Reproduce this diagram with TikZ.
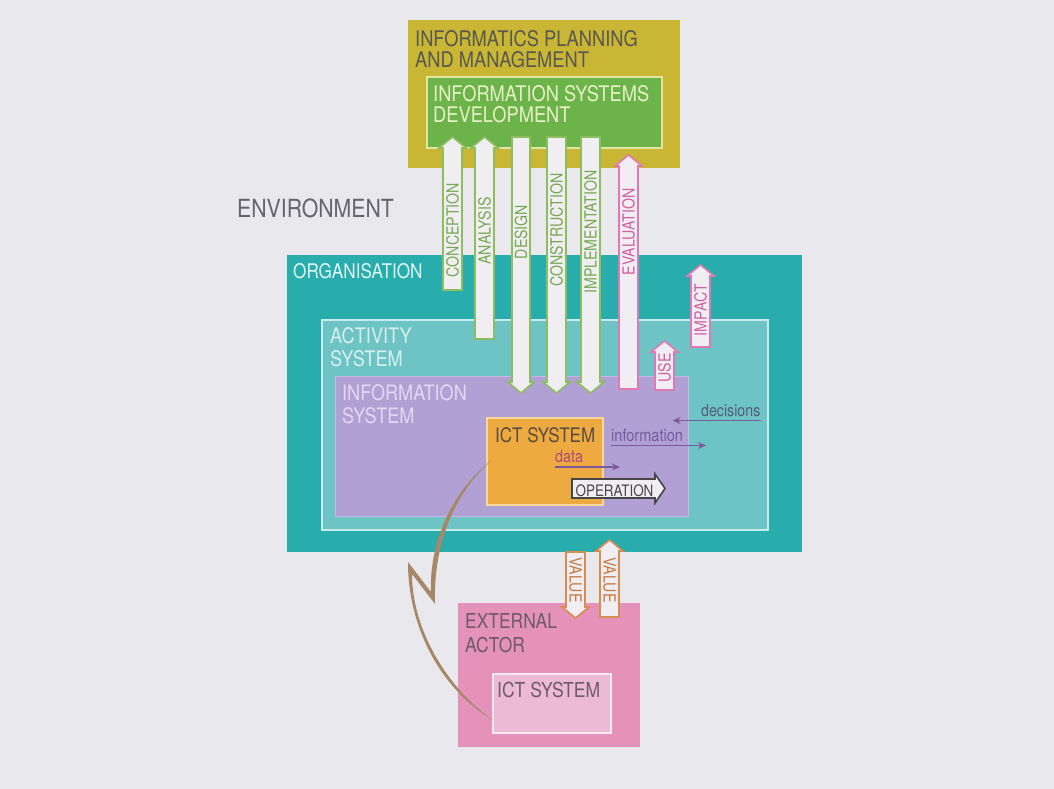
\documentclass[tikz,border=0pt]{standalone}
\usepackage{fontspec}
\setmainfont{TeX Gyre Heros}[FakeStretch=0.85]
\usetikzlibrary{arrows.meta,calc}

\definecolor{paper}{RGB}{233,232,237}
\definecolor{olivebox}{RGB}{201,182,52}
\definecolor{greenbox}{RGB}{108,180,74}
\definecolor{greenrim}{RGB}{226,230,165}
\definecolor{tealbox}{RGB}{40,172,172}
\definecolor{actbox}{RGB}{110,196,196}
\definecolor{actrim}{RGB}{200,236,236}
\definecolor{purplebox}{RGB}{176,160,212}
\definecolor{purplerim}{RGB}{196,184,226}
\definecolor{orangebox}{RGB}{236,170,64}
\definecolor{orangerim}{RGB}{246,215,160}
\definecolor{pinkbox}{RGB}{228,146,186}
\definecolor{pinkinner}{RGB}{236,186,214}
\definecolor{pinkrim}{RGB}{248,232,242}
\definecolor{blkfill}{RGB}{240,238,242}
\definecolor{greenline}{RGB}{140,190,95}
\definecolor{greentext}{RGB}{118,168,78}
\definecolor{pinkline}{RGB}{225,120,180}
\definecolor{pinktext}{RGB}{212,92,162}
\definecolor{orangeline}{RGB}{215,140,80}
\definecolor{orangetext}{RGB}{200,118,60}
\definecolor{darkline}{RGB}{70,70,70}
\definecolor{flowline}{RGB}{120,90,155}
\definecolor{datatext}{RGB}{178,72,120}
\definecolor{dectext}{RGB}{82,92,122}
\definecolor{bolt}{RGB}{166,136,104}
\definecolor{greytext}{RGB}{88,88,80}
\definecolor{envtext}{RGB}{100,100,106}
\definecolor{paletext}{RGB}{232,240,200}
\definecolor{orgtext}{RGB}{226,245,245}
\definecolor{acttext}{RGB}{214,240,240}
\definecolor{istext}{RGB}{226,216,242}
\definecolor{icttext}{RGB}{90,76,62}
\definecolor{exttext}{RGB}{110,90,104}

\newcommand\fsz[1]{\fontsize{#1}{#1}\selectfont}

% block arrow pointing up: style, left x, right x, tip y, bottom y
\newcommand\upblk[5]{%
  \draw[#1] (#2,#5) -- (#2,#4+11) -- (#2-4,#4+11) -- ({(#2+#3)/2},#4)
    -- (#3+4,#4+11) -- (#3,#4+11) -- (#3,#5) -- cycle;}
% block arrow pointing down: style, left x, right x, top y, tip y
\newcommand\dnblk[5]{%
  \draw[#1] (#2,#4) -- (#2,#5-11) -- (#2-4,#5-11) -- ({(#2+#3)/2},#5)
    -- (#3+4,#5-11) -- (#3,#5-11) -- (#3,#4) -- cycle;}

\begin{document}
\begin{tikzpicture}[x=1pt,y=-1pt,
  box/.style={anchor=north west, inner sep=0, outer sep=0},
  lbl/.style={inner sep=0, anchor=base west},
  vlbl/.style={inner sep=0, anchor=center, rotate=90, font=\fsz{16.7}},
  greenblk/.style={draw=greenline, fill=blkfill, line width=1.6pt, line join=miter},
  pinkblk/.style={draw=pinkline, fill=blkfill, line width=1.6pt, line join=miter},
  orangeblk/.style={draw=orangeline, fill=blkfill, line width=1.6pt, line join=miter},
  flow/.style={draw=flowline, line width=1.8pt, -{Stealth[length=8pt,width=7pt]}}]

\fill[paper] (0,0) rectangle (1054,789);
\useasboundingbox (0,0) rectangle (1054,789);

% ---- containers ----
\node[box, fill=olivebox, minimum width=272, minimum height=148] (ipm) at (408,20) {};
\node[box, fill=greenbox, draw=greenrim, line width=2pt, minimum width=235, minimum height=71] (isd) at (427,77) {};
\node[box, fill=tealbox, minimum width=515, minimum height=297] (org) at (287,255) {};
\node[box, fill=actbox, draw=actrim, line width=2pt, minimum width=446, minimum height=210] (act) at (322,320) {};
\node[box, fill=purplebox, draw=purplerim, line width=1pt, minimum width=353, minimum height=140] (isys) at (335,376) {};
\node[box, fill=orangebox, draw=orangerim, line width=1.5pt, minimum width=116, minimum height=87] (ict) at (487,418) {};
\node[box, fill=pinkbox, minimum width=182, minimum height=144] (ext) at (458,603) {};
\node[box, fill=pinkinner, draw=pinkrim, line width=2pt, minimum width=118, minimum height=59] (ictx) at (493,674) {};

% ---- container titles ----
\node[lbl, text=greytext, font=\fsz{21.5}] (ipmA) at (415,47) {INFORMATICS PLANNING};
\node[lbl, text=greytext, font=\fsz{21.5}] (ipmB) at (415,68) {AND MANAGEMENT};
\node[lbl, text=paletext, font=\fsz{21.5}] (isdA) at (433,102) {INFORMATION SYSTEMS};
\node[lbl, text=paletext, font=\fsz{21.5}] (isdB) at (433,123) {DEVELOPMENT};
\node[lbl, text=envtext, font=\fsz{25}] (env) at (237,217) {ENVIRONMENT};
\node[lbl, text=orgtext, font=\fsz{20.2}] (orgl) at (293,278) {ORGANISATION};
\node[lbl, text=acttext, font=\fsz{21.4}] (actA) at (330,343) {ACTIVITY};
\node[lbl, text=acttext, font=\fsz{21.4}] (actB) at (330,366) {SYSTEM};
\node[lbl, text=istext, font=\fsz{21.3}] (isA) at (342,400) {INFORMATION};
\node[lbl, text=istext, font=\fsz{21.3}] (isB) at (342,423) {SYSTEM};
\node[lbl, text=icttext, font=\fsz{20}] (ictl) at (495,442) {ICT SYSTEM};
\node[lbl, text=exttext, font=\fsz{20.5}] (extA) at (465,628) {EXTERNAL};
\node[lbl, text=exttext, font=\fsz{20.5}] (extB) at (465,652) {ACTOR};
\node[lbl, text=exttext, font=\fsz{20.6}] (ictxl) at (497,697) {ICT SYSTEM};

% ---- development block arrows ----
\upblk{greenblk}{443}{462}{137}{290}
\upblk{greenblk}{475}{494}{137}{339}
\dnblk{greenblk}{512}{530}{137}{393}
\dnblk{greenblk}{547}{566}{137}{393}
\dnblk{greenblk}{581}{600}{137}{393}
\upblk{pinkblk}{619}{638}{155}{389}
\upblk{pinkblk}{655}{674}{341}{390}
\upblk{pinkblk}{691}{710}{265}{347}
\dnblk{orangeblk}{566}{585}{552}{618}
\upblk{orangeblk}{600}{619}{540}{617}

\node[vlbl, text=greentext] (lcon) at (452.5,230) {CONCEPTION};
\node[vlbl, text=greentext] (lana) at (484.5,231) {ANALYSIS};
\node[vlbl, text=greentext] (ldes) at (521,232) {DESIGN};
\node[vlbl, text=greentext] (lcns) at (556.5,230) {CONSTRUCTION};
\node[vlbl, text=greentext] (limp) at (590.5,232) {IMPLEMENTATION};
\node[vlbl, text=pinktext] (leva) at (628.5,232) {EVALUATION};
\node[vlbl, text=pinktext] (luse) at (664.5,368) {USE};
\node[vlbl, text=pinktext] (limpact) at (700.5,310) {IMPACT};
\node[vlbl, rotate=180, text=orangetext] (lvalA) at (575.5,580) {VALUE};
\node[vlbl, rotate=180, text=orangetext] (lvalB) at (609.5,580) {VALUE};

% ---- operation arrow ----
\draw[draw=darkline, fill=blkfill, line width=1.6pt, line join=miter]
  (572,479) -- (655,479) -- (655,474) -- (665,488.5) -- (655,503) -- (655,498) -- (572,498) -- cycle;
\node[inner sep=0, anchor=base, text=darkline, font=\fsz{15.8}] (op) at (614.5,496) {OPERATION};

% ---- data / information / decisions flows ----
\node[lbl, text=datatext, font=\fsz{16.9}] (dat) at (555,462) {data};
\node[lbl, text=flowline, font=\fsz{17.1}] (inf) at (611,441) {information};
\node[lbl, text=dectext, font=\fsz{16.7}] (dec) at (701,416) {decisions};
\draw[flow] ($(dat.base west)+(0,5)$) -- ++(65,0);
\draw[flow] ($(inf.base west)+(0,4.5)$) -- ++(95,0);
\draw[flow] ($(dec.base east)+(0,4.5)$) -- ++(-88,0);

% ---- broken link between the two ICT systems ----
\coordinate (boltS) at ($(ict.north west)+(5,42)$);
\coordinate (boltE) at ($(ictx.north west)+(0,46)$);
\fill[bolt] (boltS) .. controls (454,489) and (429,540) .. (431,592)
  -- (408,562) .. controls (408,630) and (443,691) .. (boltE)
  .. controls (448,689) and (412,630) .. (412,574)
  -- (435,604) .. controls (433,542) and (456,491) .. (boltS) -- cycle;

\end{tikzpicture}
\end{document}
